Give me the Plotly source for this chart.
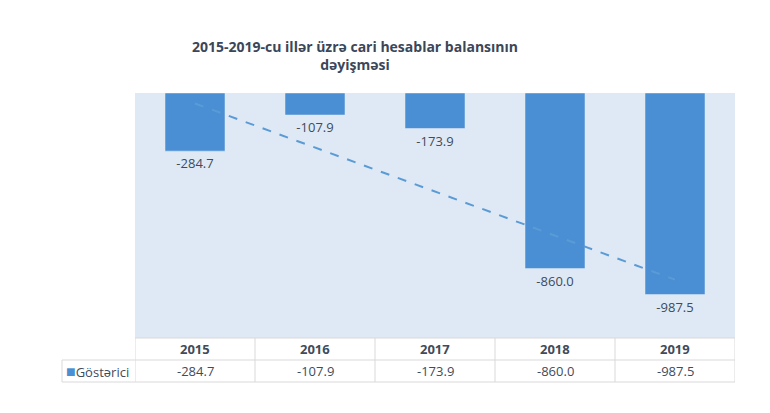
import numpy as np
import plotly.graph_objects as go

years = ["2015", "2016", "2017", "2018", "2019"]
values = [-284.7, -107.9, -173.9, -860.0, -987.5]
series_name = "Göstərici"
title = "2015-2019-cu illər üzrə cari hesablar balansının<br>dəyişməsi"

bar_col = "#4A8FD3"
txt_col = "#404B5C"
grid_col = "#D9D9D9"
font = "Open Sans"

xs = list(range(len(years)))
# linear trend line, like the spreadsheet trendline
k, b = np.polyfit(np.arange(1, len(values) + 1), values, 1)
trend = [k * (i + 1) + b for i in xs]

fig = go.Figure()
fig.add_bar(x=xs, y=values, marker_color=bar_col, width=0.5,
            text=[f"{v:.1f}" for v in values], textposition="outside",
            textfont=dict(size=13, color=txt_col, family=font), cliponaxis=False)
fig.add_scatter(x=xs, y=trend, mode="lines",
                line=dict(color="#5B9BD5", width=2, dash="dash"))

# data table under the plot
row1 = -22 / 245
row2 = -44 / 245
left = -73 / 600
shapes = []
for yy in [0, row1, row2]:
    shapes.append(dict(type="line", xref="paper", yref="paper",
                       x0=left if yy != 0 else 0, x1=1, y0=yy, y1=yy,
                       line=dict(color=grid_col, width=1)))
for i in range(len(years) + 1):
    shapes.append(dict(type="line", xref="x", yref="paper", x0=i - 0.5, x1=i - 0.5,
                       y0=0, y1=row2, line=dict(color=grid_col, width=1)))
shapes.append(dict(type="line", xref="paper", yref="paper", x0=left, x1=left,
                   y0=row1, y1=row2, line=dict(color=grid_col, width=1)))

annotations = []
for i, (yr, v) in enumerate(zip(years, values)):
    annotations.append(dict(x=i, y=row1 / 2, xref="x", yref="paper", yanchor="middle",
                            text=f"<b>{yr}</b>", showarrow=False,
                            font=dict(size=13, color=txt_col, family=font)))
    annotations.append(dict(x=i, y=(row1 + row2) / 2, xref="x", yref="paper", yanchor="middle",
                            text=f"{v:.1f}", showarrow=False,
                            font=dict(size=13, color=txt_col, family=font)))
annotations.append(dict(x=left + 0.004, y=(row1 + row2) / 2, xref="paper", yref="paper",
                        xanchor="left", yanchor="middle", showarrow=False,
                        text=f"<span style='color:{bar_col};font-size:16px'>■</span>{series_name}",
                        font=dict(size=13, color=txt_col, family=font)))
annotations.append(dict(x=0.367, y=1.155, xref="paper", yref="paper", yanchor="middle",
                        text=f"<b>{title}</b>", showarrow=False,
                        font=dict(size=14, color="#3B4658", family=font)))

fig.update_layout(
    width=754, height=397,
    margin=dict(l=127, r=27, t=85, b=67),
    paper_bgcolor="white", plot_bgcolor="#DEE9F5",
    showlegend=False, shapes=shapes, annotations=annotations,
    xaxis=dict(range=[-0.5, len(years) - 0.5], visible=False),
    yaxis=dict(range=[-1200, 0], visible=False),
)
fig.write_html("out.html")
